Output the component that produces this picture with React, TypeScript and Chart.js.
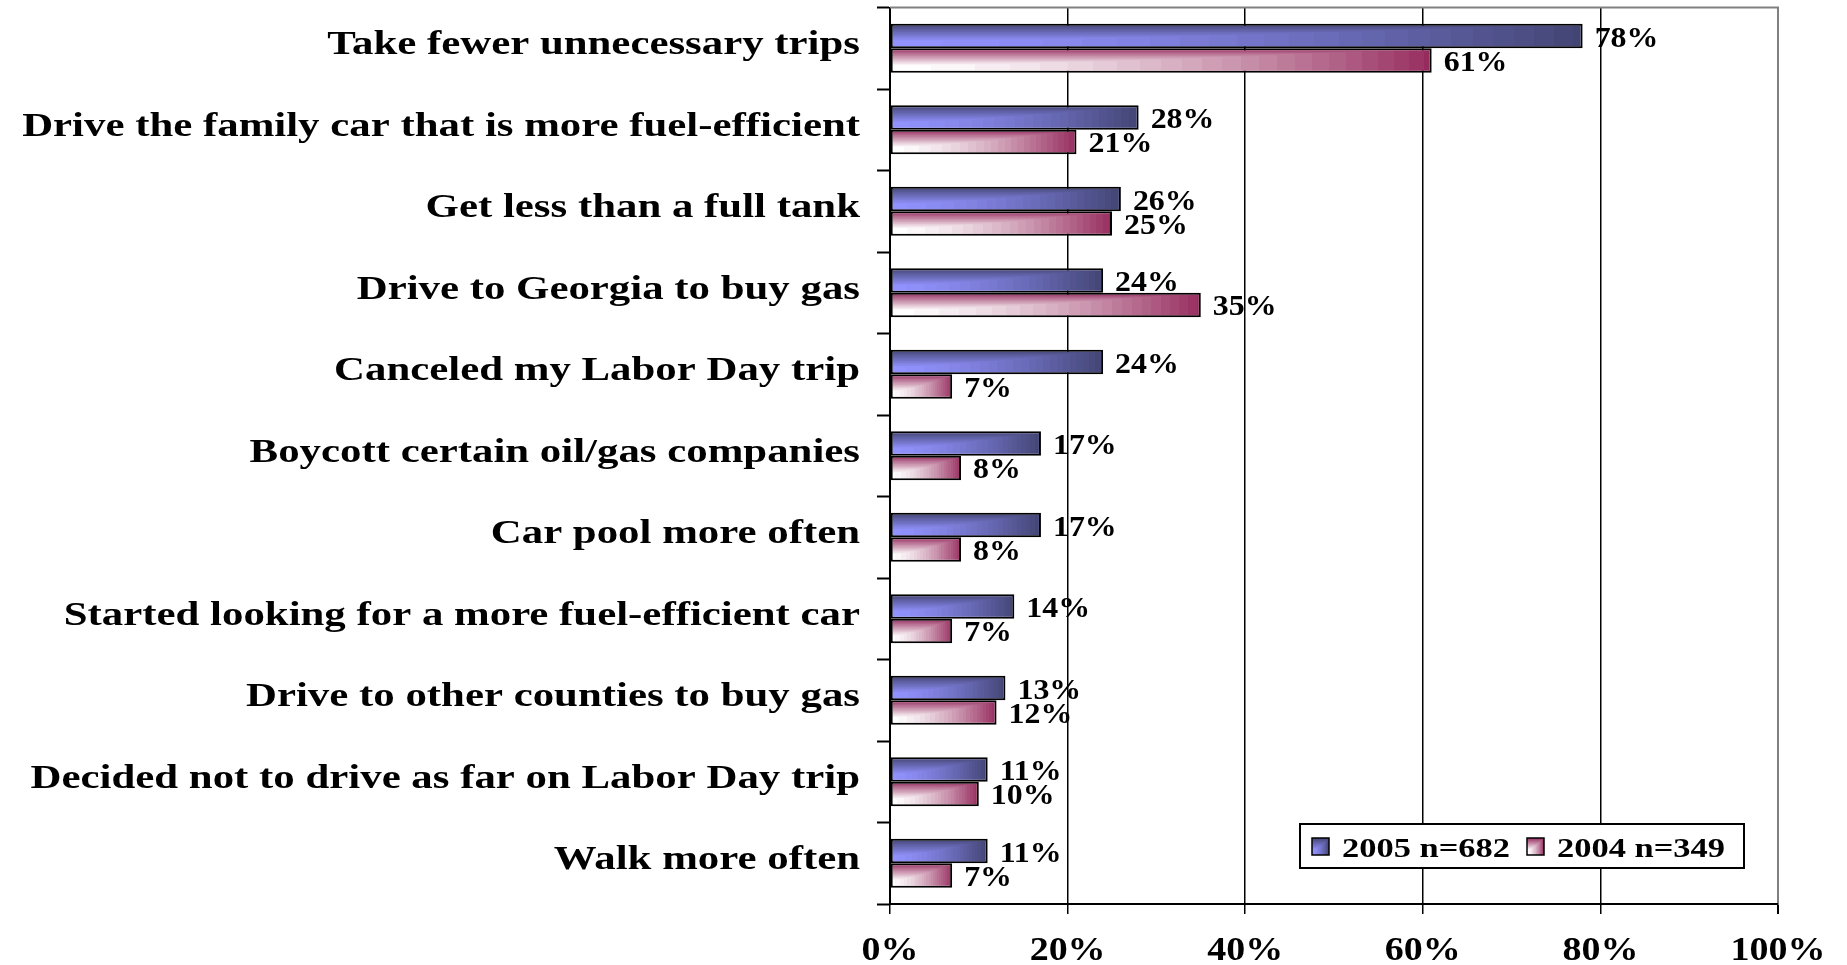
import React, { useEffect, useRef } from 'react';
import { Chart, registerables } from 'chart.js';

Chart.register(...registerables);

const categories = [
  'Take fewer unnecessary trips',
  'Drive the family car that is more fuel-efficient',
  'Get less than a full tank',
  'Drive to Georgia to buy gas',
  'Canceled my Labor Day trip',
  'Boycott certain oil/gas companies',
  'Car pool more often',
  'Started looking for a more fuel-efficient car',
  'Drive to other counties to buy gas',
  'Decided not to drive as far on Labor Day trip',
  'Walk more often',
];
const values2005 = [78, 28, 26, 24, 24, 17, 17, 14, 13, 11, 11];
const values2004 = [61, 21, 25, 35, 7, 8, 8, 7, 12, 10, 7];
const seriesLabels = ['2005 n=682', '2004 n=349'];
const xTickValues = [0, 20, 40, 60, 80, 100];

const FONT = '"Liberation Serif", "Times New Roman", serif';
const CAT_PCT = 0.6;

const palettes = [
  { light: [146, 146, 255], dark: [66, 68, 114] },
  { light: [255, 255, 255], dark: [150, 44, 94] },
];

function mix(pal: any, t: number) {
  const c = pal.light.map((l: number, i: number) => Math.round(l + (pal.dark[i] - l) * t));
  return `rgb(${c[0]},${c[1]},${c[2]})`;
}

function safeSize(v: number) {
  return isFinite(v) && v >= 1 ? Math.ceil(v) : 1;
}

function cornerCanvas(w: number, h: number, pal: any) {
  const c = document.createElement('canvas');
  c.width = safeSize(w);
  c.height = safeSize(h);
  const g = c.getContext('2d')!;
  const img = g.createImageData(c.width, c.height);
  const steps = 24;
  for (let y = 0; y < c.height; y++) {
    const v = 1 - (y + 0.5) / c.height;
    const tv = Math.max(0, Math.min(1, (v - 0.3) / 0.7));
    for (let x = 0; x < c.width; x++) {
      const u = (x + 0.5) / c.width;
      let t = Math.max(Math.pow(u, 1.5), tv);
      t = Math.round(t * steps) / steps;
      const k = (y * c.width + x) * 4;
      for (let i = 0; i < 3; i++) img.data[k + i] = Math.round(pal.light[i] + (pal.dark[i] - pal.light[i]) * t);
      img.data[k + 3] = 255;
    }
  }
  g.putImageData(img, 0, 0);
  return c;
}

function drawStretched(ctx: CanvasRenderingContext2D, text: string, x: number, y: number, align: CanvasTextAlign, sx: number) {
  ctx.save();
  ctx.translate(x, y);
  ctx.scale(sx, 1);
  ctx.textAlign = align;
  ctx.textBaseline = 'alphabetic';
  ctx.fillText(text, 0, 0);
  ctx.restore();
}

function barFill(ctx: any) {
  const fallback = mix(palettes[ctx.datasetIndex || 0], 0.5);
  if (ctx.type !== 'data') return fallback;
  try {
    const chart = ctx.chart;
    const xs = chart.scales.x;
    const ys = chart.scales.y;
    if (!xs || !ys || !isFinite(ys.bottom) || !isFinite(ys.top) || ys.bottom <= ys.top) return fallback;
    const v = ctx.raw as number;
    const x0 = xs.getPixelForValue(0);
    const x1 = xs.getPixelForValue(v);
    if (!isFinite(x0) || !isFinite(x1) || x1 - x0 < 1) return fallback;
    const cat = (ys.bottom - ys.top) / categories.length;
    const th = (cat * CAT_PCT) / 2;
    const yc = ys.getPixelForValue(ctx.dataIndex);
    if (!isFinite(yc) || th < 1) return fallback;
    const top = yc - (cat * CAT_PCT) / 2 + ctx.datasetIndex * th;
    const off = cornerCanvas(x1 - x0, th, palettes[ctx.datasetIndex]);
    const pat = chart.ctx.createPattern(off, 'no-repeat');
    if (!pat) return fallback;
    pat.setTransform(new DOMMatrix().translate(x0, top));
    return pat;
  } catch (e) {
    return fallback;
  }
}

const overlayPlugin = {
  id: 'overlayPlugin',
  afterDraw(chart: any) {
    const ctx: CanvasRenderingContext2D = chart.ctx;
    const area = chart.chartArea;
    const xs = chart.scales.x;
    const ys = chart.scales.y;
    ctx.save();
    ctx.strokeStyle = '#808080';
    ctx.lineWidth = 2;
    ctx.beginPath();
    ctx.moveTo(area.left, area.top);
    ctx.lineTo(area.right + 1, area.top);
    ctx.stroke();

    ctx.fillStyle = '#000';
    ctx.font = `bold 34px ${FONT}`;
    categories.forEach((label, i) => {
      const y = ys.getPixelForValue(i);
      drawStretched(ctx, label, 860, y + 6, 'right', 1.26);
    });
    ctx.font = `bold 33px ${FONT}`;
    xTickValues.forEach((v) => {
      drawStretched(ctx, `${v}%`, xs.getPixelForValue(v), 960, 'center', 1.15);
    });
    ctx.font = `bold 29px ${FONT}`;
    chart.data.datasets.forEach((ds: any, di: number) => {
      const meta = chart.getDatasetMeta(di);
      meta.data.forEach((el: any, i: number) => {
        const val = ds.data[i];
        drawStretched(ctx, `${val}%`, el.x + 12, el.y + 10.5, 'left', 1.1);
      });
    });

    const lx = 1300, ly = 824, lw = 444, lh = 44;
    ctx.fillStyle = '#fff';
    ctx.fillRect(lx, ly, lw, lh);
    ctx.strokeStyle = '#000';
    ctx.lineWidth = 2;
    ctx.strokeRect(lx, ly, lw, lh);
    const markerX = [1312, 1527];
    const textX = [1342, 1557];
    ctx.font = `bold 28px ${FONT}`;
    seriesLabels.forEach((lab, i) => {
      const m = cornerCanvas(17, 17, palettes[i]);
      ctx.drawImage(m, markerX[i], 838);
      ctx.strokeStyle = '#000';
      ctx.lineWidth = 1.5;
      ctx.strokeRect(markerX[i], 838, 17, 17);
      ctx.fillStyle = '#000';
      drawStretched(ctx, lab, textX[i], 857, 'left', 1.23);
    });
    ctx.restore();
  },
};

export default function App() {
  const ref = useRef<HTMLCanvasElement | null>(null);
  useEffect(() => {
    if (!ref.current) return;
    const chart = new Chart(ref.current, {
      type: 'bar',
      data: {
        labels: categories,
        datasets: [
          {
            label: seriesLabels[0],
            data: values2005,
            backgroundColor: barFill as any,
            borderColor: '#000',
            borderWidth: 2,
            borderSkipped: false,
            categoryPercentage: CAT_PCT,
            barPercentage: 1,
          },
          {
            label: seriesLabels[1],
            data: values2004,
            backgroundColor: barFill as any,
            borderColor: '#000',
            borderWidth: 2,
            borderSkipped: false,
            categoryPercentage: CAT_PCT,
            barPercentage: 1,
          },
        ],
      },
      options: {
        indexAxis: 'y',
        responsive: false,
        animation: false,
        events: [],
        layout: { padding: { top: 7.5, right: 69, left: 0, bottom: 0 } },
        plugins: { legend: { display: false }, tooltip: { enabled: false } },
        scales: {
          x: {
            min: 0,
            max: 100,
            ticks: { stepSize: 20, display: false },
            grid: {
              color: (c: any) => (c.tick && c.tick.value === 100 ? '#808080' : c.tick && c.tick.value === 0 ? 'rgba(0,0,0,0)' : '#000'),
              lineWidth: (c: any) => (c.tick && c.tick.value === 100 ? 2 : 1.5),
              tickColor: '#000',
              tickLength: 10,
              drawTicks: true,
            },
            border: { display: true, color: '#000', width: 2 },
            afterFit: (s: any) => {
              s.height = 61;
            },
          },
          y: {
            ticks: { display: false },
            grid: { drawOnChartArea: false, drawTicks: true, tickLength: 13, tickColor: '#000', tickWidth: 2, offset: true },
            border: { display: true, color: '#000', width: 2 },
            afterFit: (s: any) => {
              s.width = 890;
            },
          },
        },
      },
      plugins: [overlayPlugin],
    });
    return () => chart.destroy();
  }, []);
  return (
    <div style={{ position: 'absolute', left: 0, top: 0, width: 1847, height: 965, background: '#fff' }}>
      <canvas ref={ref} width={1847} height={965} style={{ width: 1847, height: 965 }} />
    </div>
  );
}
